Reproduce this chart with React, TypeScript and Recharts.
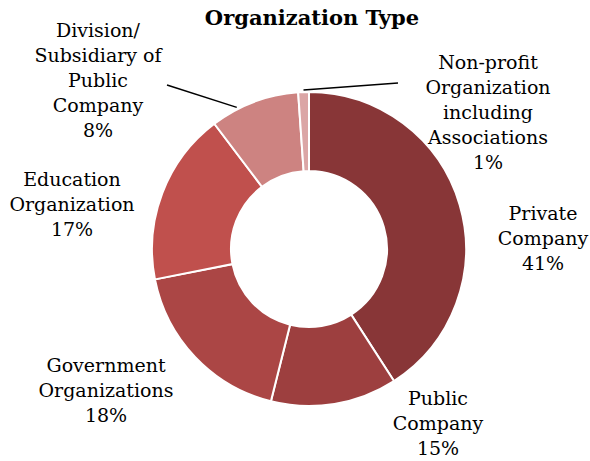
import { PieChart, Pie, Cell } from 'recharts'

document.body.style.margin = '0'

const categories = [
  'Private Company',
  'Public Company',
  'Government Organizations',
  'Education Organization',
  'Division/Subsidiary of Public Company',
  'Non-profit Organization including Associations',
]
// slice sizes as measured from the donut
const shares = [40.9, 13.0, 18.0, 17.8, 9.2, 1.1]
// percentages printed on the labels
const percentLabels = ['41%', '15%', '18%', '17%', '8%', '1%']
const labelLines = [
  ['Private', 'Company'],
  ['Public', 'Company'],
  ['Government', 'Organizations'],
  ['Education', 'Organization'],
  ['Division/', 'Subsidiary of', 'Public', 'Company'],
  ['Non-profit', 'Organization', 'including', 'Associations'],
]
const colors = ['#883637', '#9d3f3f', '#ab4645', '#c0504d', '#cd8381', '#dba6a6']

// label block position, relative to the pie centre
const labelOffset = [
  { dx: 234, dy: -36 },
  { dx: 129, dy: 149 },
  { dx: -203, dy: 116 },
  { dx: -237, dy: -70 },
  { dx: -211, dy: -219 },
  { dx: 179, dy: -187 },
]
// leader lines: angle shift from slice mid + end point relative to centre
const leaders: Record<number, { shift: number; ex: number; ey: number }> = {
  4: { shift: 6.5, ex: -142, ey: -164 },
  5: { shift: 0, ex: 89, ey: -166 },
}

const data = categories.map((name, i) => ({ name, value: shares[i] }))

const FONT = '"DejaVu Serif", Georgia, serif'
const RAD = Math.PI / 180
const LINE = 25

function renderLabel(props: any) {
  const { cx, cy, midAngle, outerRadius, index } = props
  const off = labelOffset[index]
  const x = cx + off.dx
  const y = cy + off.dy
  const lines = [...labelLines[index], percentLabels[index]]
  const lead = leaders[index]
  let leader = null
  if (lead) {
    const a = (midAngle + lead.shift) * RAD
    const r = outerRadius + 2
    leader = (
      <line
        x1={cx + r * Math.cos(a)}
        y1={cy - r * Math.sin(a)}
        x2={cx + lead.ex}
        y2={cy + lead.ey}
        stroke="#000"
        strokeWidth={1.5}
      />
    )
  }
  return (
    <g key={`lbl-${index}`}>
      {leader}
      <text
        x={x}
        y={y}
        textAnchor="middle"
        dominantBaseline="central"
        fontFamily={FONT}
        fontSize={19}
        fill="#000"
      >
        {lines.map((t, k) => (
          <tspan key={k} x={x} y={y + k * LINE}>
            {t}
          </tspan>
        ))}
      </text>
    </g>
  )
}

export default function App() {
  return (
    <div style={{ position: 'relative', width: 590, height: 461, background: '#fff' }}>
      <div
        style={{
          position: 'absolute',
          top: 4,
          left: 0,
          width: 624,
          textAlign: 'center',
          fontFamily: FONT,
          fontWeight: 'bold',
          fontSize: 21,
          lineHeight: '28px',
          color: '#000',
        }}
      >
        Organization Type
      </div>
      <PieChart width={590} height={461} margin={{ top: 0, right: 0, bottom: 0, left: 0 }}>
        <Pie
          data={data}
          dataKey="value"
          nameKey="name"
          cx={309}
          cy={249}
          innerRadius={78}
          outerRadius={157}
          startAngle={90}
          endAngle={-270}
          stroke="#fff"
          strokeWidth={2}
          label={renderLabel}
          labelLine={false}
          isAnimationActive={false}
        >
          {data.map((d, i) => (
            <Cell key={d.name} fill={colors[i]} />
          ))}
        </Pie>
      </PieChart>
    </div>
  )
}
